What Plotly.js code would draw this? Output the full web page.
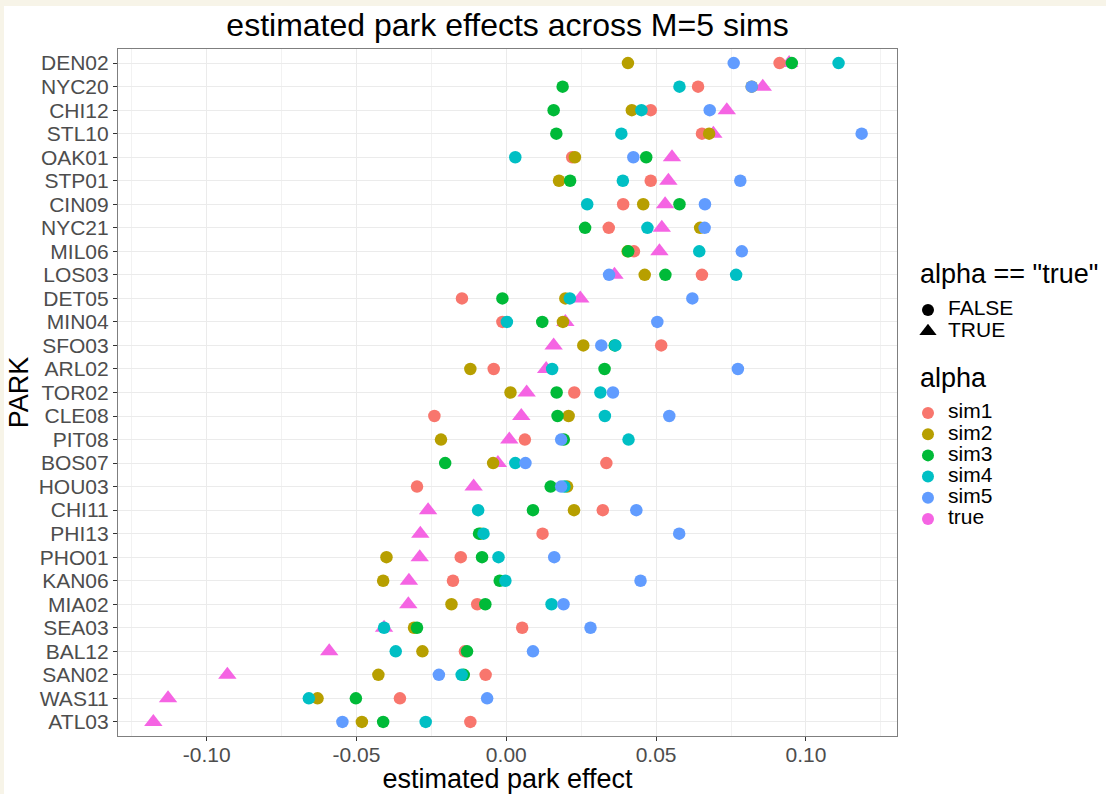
<!DOCTYPE html>
<html><head><meta charset="utf-8">
<script src="https://cdn.plot.ly/plotly-3.0.1.min.js"></script>
<style>
html,body{margin:0;padding:0;background:#F7F4E8;width:1106px;height:794px;overflow:hidden}
#chart{position:absolute;left:4px;top:6px;width:1102px;height:788px;background:#fff}
</style>
</head><body><div id="chart"></div>
<script>
// Parks, top to bottom
const parks = ["DEN02","NYC20","CHI12","STL10","OAK01","STP01","CIN09","NYC21","MIL06","LOS03",
  "DET05","MIN04","SFO03","ARL02","TOR02","CLE08","PIT08","BOS07","HOU03","CHI11",
  "PHI13","PHO01","KAN06","MIA02","SEA03","BAL12","SAN02","WAS11","ATL03"];
const sim1 = [0.0912,0.0640,0.0482,0.0653,0.0220,0.0482,0.0390,0.0342,0.0426,0.0653,
  -0.0148,-0.0013,0.0517,-0.0042,0.0227,-0.0240,0.0062,0.0334,-0.0298,0.0322,
  0.0121,-0.0152,-0.0178,-0.0097,0.0053,-0.0138,-0.0069,-0.0355,-0.0120];
const sim2 = [0.0406,0.0819,0.0419,0.0677,0.0229,0.0176,0.0457,0.0647,0.0405,0.0462,
  0.0197,0.0189,0.0257,-0.0120,0.0014,0.0208,-0.0218,-0.0044,0.0203,0.0226,
  -0.0085,-0.0400,-0.0411,-0.0183,-0.0308,-0.0280,-0.0427,-0.0630,-0.0482];
const sim3 = [0.0953,0.0188,0.0158,0.0167,0.0467,0.0213,0.0578,0.0263,0.0407,0.0531,
  -0.0013,0.0120,0.0362,0.0328,0.0168,0.0171,0.0192,-0.0204,0.0148,0.0089,
  -0.0091,-0.0081,-0.0022,-0.0070,-0.0298,-0.0131,-0.0142,-0.0502,-0.0411];
const sim4 = [0.1109,0.0578,0.0451,0.0384,0.0030,0.0389,0.0270,0.0471,0.0644,0.0767,
  0.0212,0.0002,0.0364,0.0153,0.0314,0.0329,0.0408,0.0030,0.0194,-0.0094,
  -0.0076,-0.0026,-0.0003,0.0151,-0.0408,-0.0369,-0.0149,-0.0659,-0.0269];
const sim5 = [0.0759,0.0819,0.0679,0.1186,0.0424,0.0781,0.0663,0.0662,0.0786,0.0343,
  0.0621,0.0504,0.0317,0.0773,0.0356,0.0544,0.0183,0.0064,0.0183,0.0434,
  0.0577,0.0160,0.0448,0.0191,0.0281,0.0089,-0.0225,-0.0064,-0.0547];
const trueVals = [0.0944,0.0856,0.0736,0.0691,0.0553,0.0541,0.0530,0.0519,0.0511,0.0361,
  0.0247,0.0197,0.0158,0.0133,0.0068,0.0050,0.0010,-0.0028,-0.0109,-0.0261,
  -0.0287,-0.0289,-0.0325,-0.0327,-0.0408,-0.0591,-0.0931,-0.1129,-0.1178];

const seriesNames = ["sim1","sim2","sim3","sim4","sim5","true"];
const seriesColors = ["#F8766D","#B79F00","#00BA38","#00BFC4","#619CFF","#F564E3"];
const shapeLabels = ["FALSE","TRUE"];
const shapeTitle = 'alpha == "true"';
const colourTitle = "alpha";
const xTickVals = [-0.10,-0.05,0.00,0.05,0.10];
const xTickText = ["-0.10","-0.05","0.00","0.05","0.10"];

const FONT = "Liberation Sans, Arial, Helvetica, sans-serif";
const simData = [sim1, sim2, sim3, sim4, sim5];

const traces = [];
// true values (triangles) drawn first, behind the circles
traces.push({
  type: "scatter", mode: "markers", x: trueVals, y: parks, name: "true",
  marker: {symbol: "triangle-up", size: 16, color: seriesColors[5], line: {width: 0}},
  showlegend: false, hoverinfo: "x+y+name"
});
simData.forEach((vals, i) => {
  traces.push({
    type: "scatter", mode: "markers", x: vals, y: parks, name: seriesNames[i],
    marker: {symbol: "circle", size: 12.5, color: seriesColors[i], line: {width: 0}},
    showlegend: false, hoverinfo: "x+y+name"
  });
});
const lbl = t => '<span style="font-size:21px">' + t + '</span>';
// legend 1: shape
shapeLabels.forEach((lab, i) => {
  traces.push({
    type: "scatter", mode: "markers", x: [null], y: [null], name: lbl(lab),
    legend: "legend",
    marker: {symbol: i === 0 ? "circle" : "triangle-up", size: i === 0 ? 12 : 15, color: "#000"},
    showlegend: true, hoverinfo: "skip"
  });
});
// legend 2: colour
seriesNames.forEach((nm, i) => {
  traces.push({
    type: "scatter", mode: "markers", x: [null], y: [null], name: lbl(nm),
    legend: "legend2",
    marker: {symbol: "circle", size: 12, color: seriesColors[i]},
    showlegend: true, hoverinfo: "skip"
  });
});

const n = parks.length;
const legendCommon = {
  xanchor: "left", yanchor: "top",
  bgcolor: "rgba(0,0,0,0)", borderwidth: 0,
  font: {size: 14, color: "#000", family: FONT},
  itemclick: false, itemdoubleclick: false
};
const layout = {
  width: 1102, height: 788,
  margin: {l: 114, r: 209, t: 43, b: 58, pad: 0, autoexpand: false},
  paper_bgcolor: "#ffffff", plot_bgcolor: "#ffffff",
  font: {family: FONT, color: "#000"},
  hovermode: "closest",
  title: {text: "estimated park effects across M=5 sims", font: {size: 32, color: "#000", family: FONT},
    x: 0.5, xref: "paper", xanchor: "center", y: 1 - 18.5/788, yref: "container", yanchor: "middle"},
  xaxis: {
    range: [-0.1296, 0.1304], tickmode: "array", tickvals: xTickVals, ticktext: xTickText,
    ticks: "outside", ticklen: 4, tickwidth: 1, tickcolor: "#333333",
    ticklabelstandoff: -4,
    tickfont: {size: 21, color: "#4D4D4D", family: FONT},
    showgrid: true, gridcolor: "#EBEBEB", gridwidth: 1.1,
    minor: {dtick: 0.025, tick0: 0, showgrid: true, gridcolor: "#F2F2F2", gridwidth: 0.6, ticks: ""},
    showline: true, linecolor: "#7F7F7F", linewidth: 1.2, mirror: true,
    zeroline: false, automargin: false,
    title: {text: "estimated park effect", font: {size: 27, color: "#000", family: FONT}, standoff: 7}
  },
  yaxis: {
    type: "category", categoryorder: "array", categoryarray: parks,
    tickmode: "array", tickvals: parks, ticktext: parks,
    range: [n - 1 + 0.6, -0.6],
    ticks: "outside", ticklen: 4, tickwidth: 1, tickcolor: "#333333",
    tickfont: {size: 21, color: "#4D4D4D", family: FONT},
    showgrid: true, gridcolor: "#EBEBEB", gridwidth: 1.1,
    showline: true, linecolor: "#7F7F7F", linewidth: 1.2, mirror: true,
    zeroline: false, automargin: false,
    title: {text: "PARK", font: {size: 27, color: "#000", family: FONT}, standoff: 4}
  },
  legend: Object.assign({x: 1.0141, y: 0.6428}, legendCommon),
  legend2: Object.assign({x: 1.0141, y: 0.4929}, legendCommon),
  annotations: [
    {text: shapeTitle, xref: "paper", yref: "paper", x: 1.027, y: 0.6725,
      xanchor: "left", yanchor: "middle", showarrow: false,
      font: {size: 27, color: "#000", family: FONT}},
    {text: colourTitle, xref: "paper", yref: "paper", x: 1.027, y: 0.5211,
      xanchor: "left", yanchor: "middle", showarrow: false,
      font: {size: 27, color: "#000", family: FONT}}
  ]
};
Plotly.newPlot("chart", traces, layout, {displayModeBar: false, responsive: false});
</script>
</body></html>
